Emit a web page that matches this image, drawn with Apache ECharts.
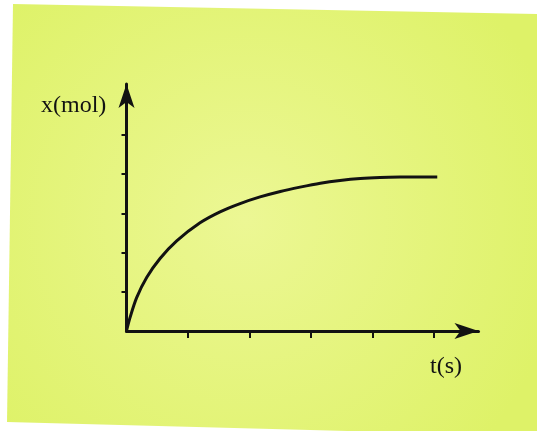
<!DOCTYPE html>
<html>
<head>
<meta charset="utf-8">
<script src="https://cdn.jsdelivr.net/npm/echarts@6/dist/echarts.min.js"></script>
<style>
html,body{margin:0;padding:0;background:#ffffff;}
#chart{width:537px;height:431px;}
</style>
</head>
<body>
<div id="chart"></div>
<script>
// t (s) and x (mol), in tick units
const tValues = [0, 0.057, 0.165, 0.33, 0.545, 0.816, 1.195, 1.52, 1.846, 2.17, 2.5, 2.82, 3.15, 3.47, 3.80, 4.12, 4.45, 5.05];
const xValues = [0, 0.34, 0.85, 1.37, 1.85, 2.30, 2.76, 3.04, 3.25, 3.42, 3.56, 3.67, 3.77, 3.84, 3.89, 3.915, 3.925, 3.93];
const xTicks = [1, 2, 3, 4, 5];
const yTicks = [1, 2, 3, 4, 5];
const yName = 'x(mol)';
const xName = 't(s)';

const chart = echarts.init(document.getElementById('chart'), null, {renderer: 'canvas'});
const ink = '#121212';
const serif = '"Liberation Serif", "DejaVu Serif", serif';

chart.setOption({
  animation: false,
  grid: {left: 126.5, right: 58.5, top: 84, bottom: 100, containLabel: false},
  graphic: [
    {
      type: 'polygon', z: -10, silent: true,
      shape: {points: [[13, 4], [537, 14], [537, 436], [7, 422]]},
      style: {
        fill: {
          type: 'radial', x: 0.45, y: 0.5, r: 0.75,
          colorStops: [
            {offset: 0, color: 'rgb(236,247,148)'},
            {offset: 1, color: 'rgb(222,242,104)'}
          ]
        }
      }
    },
    {
      type: 'text', left: 41, top: 94,
      style: {text: yName, font: '24px ' + serif, fill: ink}
    },
    {
      type: 'text', left: 430, top: 355,
      style: {text: xName, font: '24px ' + serif, fill: ink}
    }
  ],
  xAxis: {
    type: 'value', min: 0, max: 5.72, interval: 1,
    splitLine: {show: false},
    axisLabel: {show: false},
    axisLine: {show: true, symbol: ['none', 'arrow'], symbolSize: [12, 24],
      lineStyle: {color: ink, width: 3}},
    axisTick: {show: true, length: 7, customValues: xTicks, lineStyle: {color: ink, width: 2}}
  },
  yAxis: {
    type: 'value', min: 0, max: 6.3, interval: 1,
    splitLine: {show: false},
    axisLabel: {show: false},
    axisLine: {show: true, symbol: ['none', 'arrow'], symbolSize: [12, 24],
      lineStyle: {color: ink, width: 3}},
    axisTick: {show: true, length: 5, customValues: yTicks, lineStyle: {color: ink, width: 2}}
  },
  series: [{
    type: 'line',
    data: tValues.map((t, i) => [t, xValues[i]]),
    smooth: 0.3,
    showSymbol: false,
    lineStyle: {color: ink, width: 3},
    z: 5
  }]
});
</script>
</body>
</html>
